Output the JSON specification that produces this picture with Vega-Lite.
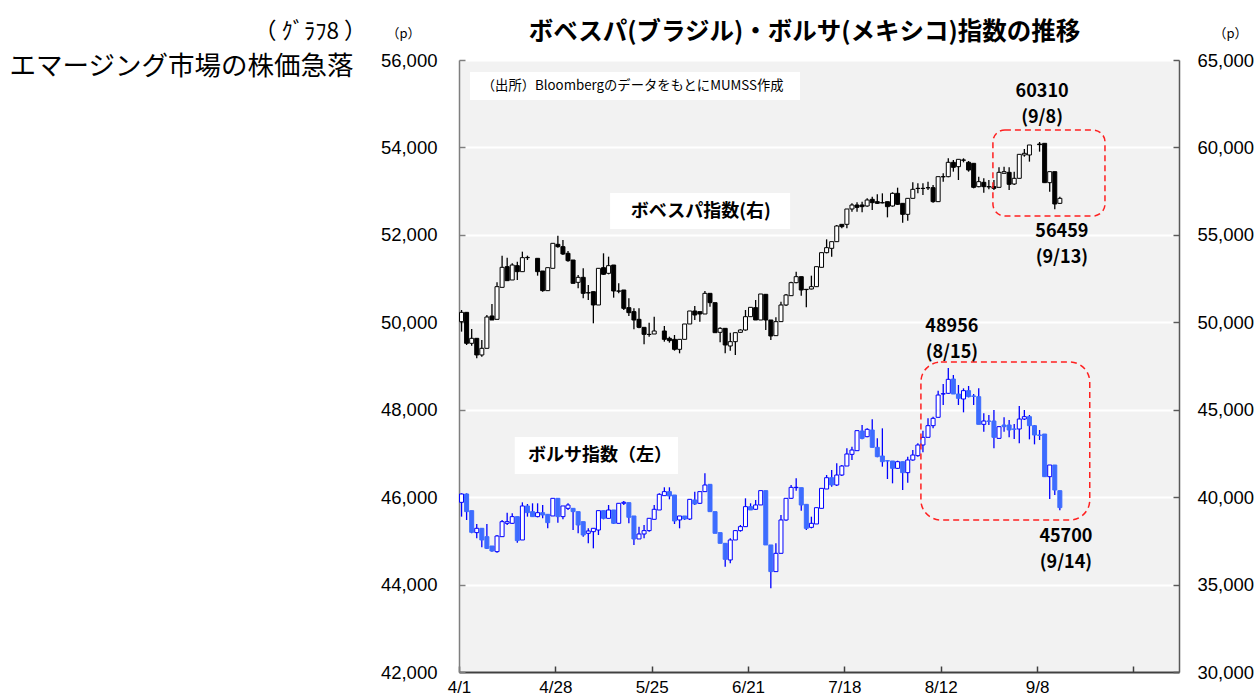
{
  "$schema": "https://vega.github.io/schema/vega-lite/v6.json",
  "width": 720,
  "height": 612,
  "autosize": {"type": "none"},
  "padding": {"left": 459, "top": 60, "right": 80, "bottom": 25},
  "background": "#FFFFFF",
  "config": {"view": {"fill": "#F2F2F2", "stroke": null}, "font": "Liberation Sans"},
  "datasets": {
    "bs": [
      {"i":0,"d":"4/1","o":45881,"h":46087,"l":45554,"c":46072},
      {"i":1,"d":"4/4","o":46072,"h":46087,"l":45477,"c":45668},
      {"i":2,"d":"4/5","o":45691,"h":45691,"l":45172,"c":45195},
      {"i":3,"d":"4/6","o":45188,"h":45386,"l":45058,"c":45287},
      {"i":4,"d":"4/7","o":45287,"h":45287,"l":44852,"c":45020},
      {"i":5,"d":"4/8","o":45096,"h":45386,"l":44814,"c":44829},
      {"i":6,"d":"4/11","o":44882,"h":44882,"l":44753,"c":44768},
      {"i":7,"d":"4/12","o":44753,"h":45134,"l":44730,"c":45111},
      {"i":8,"d":"4/13","o":45096,"h":45477,"l":45096,"c":45439},
      {"i":9,"d":"4/14","o":45401,"h":45645,"l":45363,"c":45439},
      {"i":10,"d":"4/15","o":45401,"h":45630,"l":45386,"c":45554},
      {"i":11,"d":"4/18","o":45554,"h":45554,"l":44959,"c":45005},
      {"i":12,"d":"4/19","o":45020,"h":45881,"l":45020,"c":45798},
      {"i":13,"d":"4/20","o":45798,"h":45843,"l":45554,"c":45645},
      {"i":14,"d":"4/21","o":45668,"h":45859,"l":45554,"c":45554},
      {"i":15,"d":"4/22","o":45554,"h":45859,"l":45538,"c":45645},
      {"i":16,"d":"4/25","o":45645,"h":45820,"l":45515,"c":45592},
      {"i":17,"d":"4/26","o":45607,"h":45607,"l":45287,"c":45416},
      {"i":18,"d":"4/27","o":45569,"h":45973,"l":45569,"c":45973},
      {"i":19,"d":"4/28","o":45973,"h":45973,"l":45416,"c":45554},
      {"i":20,"d":"4/29","o":45554,"h":45798,"l":45492,"c":45798},
      {"i":21,"d":"5/2","o":45744,"h":45859,"l":45706,"c":45820},
      {"i":22,"d":"5/3","o":45744,"h":45744,"l":45248,"c":45668},
      {"i":23,"d":"5/4","o":45668,"h":45668,"l":45172,"c":45363},
      {"i":24,"d":"5/5","o":45439,"h":45439,"l":45096,"c":45134},
      {"i":25,"d":"5/6","o":45172,"h":45287,"l":44944,"c":45226},
      {"i":26,"d":"5/9","o":45210,"h":45287,"l":44829,"c":45287},
      {"i":27,"d":"5/10","o":45248,"h":45691,"l":45134,"c":45691},
      {"i":28,"d":"5/11","o":45691,"h":45691,"l":45492,"c":45515},
      {"i":29,"d":"5/12","o":45515,"h":45820,"l":45515,"c":45706},
      {"i":30,"d":"5/13","o":45706,"h":45706,"l":45386,"c":45401},
      {"i":31,"d":"5/16","o":45401,"h":45859,"l":45401,"c":45859},
      {"i":32,"d":"5/17","o":45859,"h":45912,"l":45821,"c":45882},
      {"i":33,"d":"5/18","o":45874,"h":45874,"l":45401,"c":45539},
      {"i":34,"d":"5/19","o":45569,"h":45569,"l":44906,"c":45043},
      {"i":35,"d":"5/20","o":45043,"h":45325,"l":45043,"c":45157},
      {"i":36,"d":"5/23","o":45157,"h":45363,"l":45058,"c":45234},
      {"i":37,"d":"5/24","o":45234,"h":45516,"l":45211,"c":45516},
      {"i":38,"d":"5/25","o":45493,"h":45821,"l":45493,"c":45722},
      {"i":39,"d":"5/26","o":45706,"h":46088,"l":45706,"c":46065},
      {"i":40,"d":"5/27","o":46034,"h":46225,"l":46034,"c":46126},
      {"i":41,"d":"5/30","o":46126,"h":46225,"l":45950,"c":46027},
      {"i":42,"d":"5/31","o":46049,"h":46049,"l":45386,"c":45455},
      {"i":43,"d":"6/1","o":45478,"h":45569,"l":45287,"c":45569},
      {"i":44,"d":"6/2","o":45569,"h":45569,"l":45478,"c":45500},
      {"i":45,"d":"6/3","o":45500,"h":45950,"l":45478,"c":45950},
      {"i":46,"d":"6/6","o":45935,"h":46126,"l":45821,"c":45844},
      {"i":47,"d":"6/7","o":45859,"h":46126,"l":45844,"c":46126},
      {"i":48,"d":"6/8","o":46126,"h":46545,"l":46126,"c":46278},
      {"i":49,"d":"6/9","o":46293,"h":46293,"l":45668,"c":45668},
      {"i":50,"d":"6/10","o":45668,"h":45668,"l":45173,"c":45173},
      {"i":51,"d":"6/13","o":45188,"h":45188,"l":44944,"c":44944},
      {"i":52,"d":"6/14","o":44944,"h":44944,"l":44410,"c":44578},
      {"i":53,"d":"6/15","o":44563,"h":45058,"l":44486,"c":45020},
      {"i":54,"d":"6/16","o":45020,"h":45249,"l":45020,"c":45234},
      {"i":55,"d":"6/17","o":45234,"h":45363,"l":45211,"c":45325},
      {"i":56,"d":"6/20","o":45325,"h":45973,"l":45325,"c":45783},
      {"i":57,"d":"6/21","o":45783,"h":45859,"l":45706,"c":45706},
      {"i":58,"d":"6/22","o":45722,"h":45935,"l":45706,"c":45821},
      {"i":59,"d":"6/23","o":45821,"h":46149,"l":45821,"c":46149},
      {"i":60,"d":"6/24","o":46149,"h":46149,"l":44906,"c":44906},
      {"i":61,"d":"6/27","o":44906,"h":44906,"l":43914,"c":44296},
      {"i":62,"d":"6/28","o":44296,"h":44944,"l":44296,"c":44715},
      {"i":63,"d":"6/29","o":44715,"h":45592,"l":44715,"c":45478},
      {"i":64,"d":"6/30","o":45477,"h":45973,"l":45462,"c":45973},
      {"i":65,"d":"7/1","o":45973,"h":46278,"l":45957,"c":46224},
      {"i":66,"d":"7/4","o":46217,"h":46430,"l":46148,"c":46225},
      {"i":67,"d":"7/5","o":46217,"h":46217,"l":45691,"c":45820},
      {"i":68,"d":"7/6","o":45835,"h":45835,"l":45248,"c":45286},
      {"i":69,"d":"7/7","o":45309,"h":45553,"l":45286,"c":45401},
      {"i":70,"d":"7/8","o":45386,"h":45759,"l":45386,"c":45759},
      {"i":71,"d":"7/11","o":45744,"h":46201,"l":45744,"c":46201},
      {"i":72,"d":"7/12","o":46186,"h":46506,"l":46186,"c":46445},
      {"i":73,"d":"7/13","o":46445,"h":46621,"l":46240,"c":46278},
      {"i":74,"d":"7/14","o":46278,"h":46773,"l":46255,"c":46506},
      {"i":75,"d":"7/15","o":46506,"h":46734,"l":46483,"c":46712},
      {"i":76,"d":"7/18","o":46712,"h":47116,"l":46712,"c":46987},
      {"i":77,"d":"7/19","o":46979,"h":47155,"l":46850,"c":47078},
      {"i":78,"d":"7/20","o":47063,"h":47521,"l":47063,"c":47521},
      {"i":79,"d":"7/21","o":47513,"h":47650,"l":47322,"c":47345},
      {"i":80,"d":"7/22","o":47383,"h":47574,"l":47368,"c":47551},
      {"i":81,"d":"7/25","o":47536,"h":47780,"l":47139,"c":47139},
      {"i":82,"d":"7/26","o":47139,"h":47345,"l":46911,"c":46926},
      {"i":83,"d":"7/27","o":46941,"h":47574,"l":46697,"c":46811},
      {"i":84,"d":"7/28","o":46834,"h":46850,"l":46415,"c":46826},
      {"i":85,"d":"7/29","o":46827,"h":46827,"l":46316,"c":46659},
      {"i":86,"d":"8/1","o":46659,"h":46834,"l":46644,"c":46811},
      {"i":87,"d":"8/2","o":46811,"h":46811,"l":46163,"c":46560},
      {"i":88,"d":"8/3","o":46560,"h":46926,"l":46331,"c":46850},
      {"i":89,"d":"8/4","o":46850,"h":47078,"l":46834,"c":46964},
      {"i":90,"d":"8/5","o":46949,"h":47231,"l":46926,"c":47193},
      {"i":91,"d":"8/8","o":47193,"h":47521,"l":47025,"c":47368},
      {"i":92,"d":"8/9","o":47368,"h":47803,"l":47368,"c":47635},
      {"i":93,"d":"8/10","o":47635,"h":47841,"l":47574,"c":47803},
      {"i":94,"d":"8/11","o":47826,"h":48436,"l":47826,"c":48336},
      {"i":95,"d":"8/12","o":48359,"h":48588,"l":48108,"c":48367},
      {"i":96,"d":"8/15","o":48375,"h":48956,"l":48359,"c":48695},
      {"i":97,"d":"8/16","o":48702,"h":48794,"l":48359,"c":48359},
      {"i":98,"d":"8/17","o":48359,"h":48565,"l":48108,"c":48260},
      {"i":99,"d":"8/18","o":48245,"h":48489,"l":47940,"c":48436},
      {"i":100,"d":"8/19","o":48436,"h":48542,"l":48283,"c":48298},
      {"i":101,"d":"8/22","o":48314,"h":48359,"l":48108,"c":48306},
      {"i":102,"d":"8/23","o":48298,"h":48489,"l":47665,"c":47665},
      {"i":103,"d":"8/24","o":47665,"h":47917,"l":47498,"c":47742},
      {"i":104,"d":"8/25","o":47742,"h":47879,"l":47650,"c":47735},
      {"i":105,"d":"8/26","o":47742,"h":47993,"l":47116,"c":47368},
      {"i":106,"d":"8/29","o":47345,"h":47627,"l":47330,"c":47612},
      {"i":107,"d":"8/30","o":47650,"h":47826,"l":47498,"c":47612},
      {"i":108,"d":"8/31","o":47650,"h":47765,"l":47368,"c":47536},
      {"i":109,"d":"9/1","o":47559,"h":47673,"l":47330,"c":47552},
      {"i":110,"d":"9/2","o":47559,"h":48085,"l":47231,"c":47787},
      {"i":111,"d":"9/5","o":47787,"h":47993,"l":47765,"c":47841},
      {"i":112,"d":"9/6","o":47841,"h":47879,"l":47322,"c":47635},
      {"i":113,"d":"9/7","o":47635,"h":47650,"l":47208,"c":47421},
      {"i":114,"d":"9/8","o":47421,"h":47536,"l":47307,"c":47413},
      {"i":115,"d":"9/9","o":47444,"h":47444,"l":46468,"c":46468},
      {"i":116,"d":"9/12","o":46468,"h":46735,"l":45957,"c":46735},
      {"i":117,"d":"9/13","o":46735,"h":46735,"l":46049,"c":46163},
      {"i":118,"d":"9/14","o":46148,"h":46148,"l":45700,"c":45760}
    ],
    "bv": [
      {"i":0,"d":"4/1","o":50036,"h":50703,"l":49465,"c":50569},
      {"i":1,"d":"4/4","o":50569,"h":50569,"l":48701,"c":48797},
      {"i":2,"d":"4/5","o":48797,"h":49617,"l":48663,"c":49083},
      {"i":3,"d":"4/6","o":49083,"h":49083,"l":47939,"c":48130},
      {"i":4,"d":"4/7","o":48130,"h":48988,"l":48034,"c":48511},
      {"i":5,"d":"4/8","o":48511,"h":50417,"l":48511,"c":50303},
      {"i":6,"d":"4/11","o":50360,"h":51046,"l":50131,"c":50131},
      {"i":7,"d":"4/12","o":50170,"h":52285,"l":50170,"c":52037},
      {"i":8,"d":"4/13","o":51999,"h":53810,"l":51999,"c":53143},
      {"i":9,"d":"4/14","o":53181,"h":53696,"l":52380,"c":52380},
      {"i":10,"d":"4/15","o":52419,"h":53372,"l":52419,"c":53276},
      {"i":11,"d":"4/18","o":53238,"h":53467,"l":52419,"c":52895},
      {"i":12,"d":"4/19","o":52895,"h":54039,"l":52895,"c":53696},
      {"i":13,"d":"4/20","o":53696,"h":53810,"l":53562,"c":53710},
      {"i":15,"d":"4/22","o":53658,"h":53658,"l":52666,"c":52895},
      {"i":16,"d":"4/25","o":52933,"h":52933,"l":51751,"c":51809},
      {"i":17,"d":"4/26","o":51809,"h":53124,"l":51809,"c":53124},
      {"i":18,"d":"4/27","o":53086,"h":54516,"l":53086,"c":54516},
      {"i":19,"d":"4/28","o":54458,"h":54954,"l":54268,"c":54325},
      {"i":20,"d":"4/29","o":54325,"h":54706,"l":53848,"c":53906},
      {"i":21,"d":"5/2","o":53944,"h":54077,"l":53467,"c":53524},
      {"i":22,"d":"5/3","o":53562,"h":53562,"l":52228,"c":52228},
      {"i":23,"d":"5/4","o":52285,"h":52705,"l":51942,"c":52571},
      {"i":24,"d":"5/5","o":52571,"h":53086,"l":51370,"c":51656},
      {"i":25,"d":"5/6","o":51694,"h":52133,"l":51275,"c":51680},
      {"i":26,"d":"5/9","o":51751,"h":51751,"l":49941,"c":50989},
      {"i":27,"d":"5/10","o":50989,"h":53086,"l":50989,"c":53086},
      {"i":28,"d":"5/11","o":53124,"h":53944,"l":52705,"c":52743},
      {"i":29,"d":"5/12","o":52800,"h":53753,"l":52743,"c":53238},
      {"i":30,"d":"5/13","o":53276,"h":53276,"l":51408,"c":51790},
      {"i":31,"d":"5/16","o":51790,"h":52228,"l":51656,"c":51780},
      {"i":32,"d":"5/17","o":51847,"h":51847,"l":50703,"c":50798},
      {"i":33,"d":"5/18","o":50836,"h":51370,"l":50359,"c":50550},
      {"i":34,"d":"5/19","o":50608,"h":50798,"l":49597,"c":50131},
      {"i":35,"d":"5/20","o":50169,"h":50798,"l":49654,"c":49711},
      {"i":36,"d":"5/23","o":49711,"h":49711,"l":48739,"c":49311},
      {"i":37,"d":"5/24","o":49311,"h":49978,"l":49178,"c":49300},
      {"i":38,"d":"5/25","o":49330,"h":50321,"l":49330,"c":49502},
      {"i":40,"d":"5/27","o":49502,"h":49788,"l":48892,"c":49025},
      {"i":41,"d":"5/30","o":49082,"h":49178,"l":48835,"c":48949},
      {"i":42,"d":"5/31","o":49025,"h":49273,"l":48377,"c":48453},
      {"i":43,"d":"6/1","o":48453,"h":49025,"l":48225,"c":49025},
      {"i":44,"d":"6/2","o":49025,"h":49902,"l":49025,"c":49902},
      {"i":45,"d":"6/3","o":49902,"h":50646,"l":49902,"c":50646},
      {"i":46,"d":"6/6","o":50646,"h":50932,"l":50131,"c":50417},
      {"i":47,"d":"6/7","o":50608,"h":50608,"l":50036,"c":50474},
      {"i":48,"d":"6/8","o":50474,"h":51790,"l":50474,"c":51656},
      {"i":49,"d":"6/9","o":51656,"h":51656,"l":50893,"c":51122},
      {"i":50,"d":"6/10","o":51122,"h":51122,"l":49406,"c":49406},
      {"i":51,"d":"6/13","o":49426,"h":49711,"l":48854,"c":49654},
      {"i":52,"d":"6/14","o":49654,"h":49654,"l":48225,"c":48701},
      {"i":53,"d":"6/15","o":48644,"h":49406,"l":48377,"c":48892},
      {"i":54,"d":"6/16","o":48892,"h":49406,"l":48129,"c":49406},
      {"i":55,"d":"6/17","o":49426,"h":49597,"l":49406,"c":49559},
      {"i":56,"d":"6/20","o":49559,"h":50703,"l":49521,"c":50321},
      {"i":57,"d":"6/21","o":50321,"h":50855,"l":50321,"c":50855},
      {"i":58,"d":"6/22","o":50836,"h":51275,"l":50131,"c":50131},
      {"i":59,"d":"6/23","o":50131,"h":51618,"l":50131,"c":51618},
      {"i":60,"d":"6/24","o":51599,"h":51599,"l":49559,"c":50131},
      {"i":61,"d":"6/27","o":50131,"h":50131,"l":48987,"c":49216},
      {"i":62,"d":"6/28","o":49235,"h":50284,"l":49216,"c":50036},
      {"i":63,"d":"6/29","o":50036,"h":51179,"l":50036,"c":50989},
      {"i":64,"d":"6/30","o":50989,"h":51618,"l":50932,"c":51561},
      {"i":65,"d":"7/1","o":51522,"h":52323,"l":51522,"c":52266},
      {"i":66,"d":"7/4","o":52266,"h":52895,"l":52228,"c":52609},
      {"i":67,"d":"7/5","o":52609,"h":52609,"l":51522,"c":51847},
      {"i":68,"d":"7/6","o":51885,"h":51885,"l":50855,"c":51870},
      {"i":69,"d":"7/7","o":51904,"h":52666,"l":51885,"c":52037},
      {"i":70,"d":"7/8","o":52037,"h":53181,"l":52037,"c":53181},
      {"i":71,"d":"7/11","o":53143,"h":53982,"l":53143,"c":53982},
      {"i":72,"d":"7/12","o":53982,"h":54744,"l":53944,"c":54268},
      {"i":73,"d":"7/13","o":54229,"h":54611,"l":53753,"c":54611},
      {"i":74,"d":"7/14","o":54611,"h":55564,"l":54611,"c":55507},
      {"i":75,"d":"7/15","o":55602,"h":55602,"l":55373,"c":55469},
      {"i":76,"d":"7/18","o":55602,"h":56479,"l":55373,"c":56479},
      {"i":77,"d":"7/19","o":56479,"h":56803,"l":56326,"c":56708},
      {"i":78,"d":"7/20","o":56708,"h":56860,"l":56326,"c":56574},
      {"i":79,"d":"7/21","o":56708,"h":56898,"l":56288,"c":56612},
      {"i":80,"d":"7/22","o":56651,"h":57089,"l":56612,"c":56994},
      {"i":81,"d":"7/25","o":57032,"h":57184,"l":56422,"c":56841},
      {"i":82,"d":"7/26","o":56898,"h":57318,"l":56765,"c":56803},
      {"i":83,"d":"7/27","o":56841,"h":57375,"l":56803,"c":56830},
      {"i":84,"d":"7/28","o":56898,"h":56898,"l":56002,"c":56612},
      {"i":85,"d":"7/29","o":56651,"h":57432,"l":56612,"c":57375},
      {"i":86,"d":"8/1","o":57375,"h":57698,"l":56708,"c":56746},
      {"i":87,"d":"8/2","o":56803,"h":56803,"l":55697,"c":56174},
      {"i":88,"d":"8/3","o":56174,"h":57089,"l":55812,"c":57089},
      {"i":89,"d":"8/4","o":57089,"h":58004,"l":57089,"c":57603},
      {"i":90,"d":"8/5","o":57661,"h":57947,"l":57375,"c":57650},
      {"i":91,"d":"8/8","o":57661,"h":57947,"l":57280,"c":57650},
      {"i":92,"d":"8/9","o":57699,"h":58042,"l":57566,"c":57690},
      {"i":93,"d":"8/10","o":57699,"h":57852,"l":56841,"c":56899},
      {"i":94,"d":"8/11","o":56899,"h":58328,"l":56899,"c":58328},
      {"i":95,"d":"8/12","o":58328,"h":58519,"l":58042,"c":58320},
      {"i":96,"d":"8/15","o":58328,"h":59377,"l":58290,"c":59148},
      {"i":97,"d":"8/16","o":59148,"h":59281,"l":58614,"c":58862},
      {"i":98,"d":"8/17","o":58900,"h":59319,"l":58138,"c":59319},
      {"i":99,"d":"8/18","o":59281,"h":59377,"l":59148,"c":59270},
      {"i":100,"d":"8/19","o":59148,"h":59224,"l":58614,"c":58709},
      {"i":101,"d":"8/22","o":59091,"h":59091,"l":57661,"c":57718},
      {"i":102,"d":"8/23","o":57756,"h":58328,"l":57718,"c":58042},
      {"i":103,"d":"8/24","o":58004,"h":58233,"l":57413,"c":57756},
      {"i":104,"d":"8/25","o":57756,"h":58138,"l":57604,"c":57745},
      {"i":105,"d":"8/26","o":57756,"h":58138,"l":57566,"c":57661},
      {"i":106,"d":"8/29","o":57718,"h":58862,"l":57718,"c":58576},
      {"i":107,"d":"8/30","o":58519,"h":58900,"l":58519,"c":58614},
      {"i":108,"d":"8/31","o":58576,"h":58862,"l":57566,"c":57890},
      {"i":109,"d":"9/1","o":57909,"h":58614,"l":57852,"c":58233},
      {"i":110,"d":"9/2","o":58233,"h":59605,"l":58233,"c":59605},
      {"i":111,"d":"9/5","o":59567,"h":59910,"l":59472,"c":59663},
      {"i":112,"d":"9/6","o":59567,"h":60139,"l":59187,"c":60139},
      {"i":114,"d":"9/8","o":60196,"h":60310,"l":59758,"c":60160},
      {"i":115,"d":"9/9","o":60235,"h":60235,"l":57985,"c":57985},
      {"i":116,"d":"9/12","o":57985,"h":58614,"l":57470,"c":58614},
      {"i":117,"d":"9/13","o":58614,"h":58614,"l":56459,"c":56765},
      {"i":118,"d":"9/14","o":56803,"h":57185,"l":56765,"c":57089}
    ]
  },
  "encoding": {
    "x": {
      "field": "i", "type": "quantitative",
      "scale": {"domain": [-0.5, 141.5], "nice": false, "zero": false, "padding": 0},
      "axis": {
        "values": [-0.5, 18.5, 37.5, 56.5, 75.5, 94.5, 113.5, 132.5],
        "labelExpr": "datum.value < 0 ? '4/1' : datum.value < 19 ? '4/28' : datum.value < 38 ? '5/25' : datum.value < 57 ? '6/21' : datum.value < 76 ? '7/18' : datum.value < 95 ? '8/12' : datum.value < 114 ? '9/8' : ''",
        "grid": false, "labelFlush": false, "labelOverlap": false,
        "tickSize": -6, "tickColor": "#404040", "tickWidth": 1.5,
        "domainColor": "#404040", "domainWidth": 2,
        "labelFont": "Liberation Sans", "labelFontSize": 17, "labelColor": "#000000", "labelPadding": 13,
        "title": "ボベスパ(ブラジル)・ボルサ(メキシコ)指数の推移",
        "titleFont": "Noto Sans CJK JP", "titleFontSize": 24.5, "titleFontWeight": "bold", "titleColor": "#000000",
        "titleX": 345, "titleY": -633, "titleAlign": "center", "titleBaseline": "alphabetic", "titleAngle": 0
      }
    }
  },
  "layer": [
    {
      "data": {"name": "bs"},
      "mark": {"type": "rule", "color": "#0000FF", "strokeWidth": 1.3},
      "encoding": {
        "y": {
          "field": "l", "type": "quantitative",
          "scale": {"domain": [42000, 56000], "nice": false, "zero": false},
          "axis": {
            "orient": "left",
            "values": [42000, 44000, 46000, 48000, 50000, 52000, 54000, 56000],
            "format": ",.0f",
            "grid": true, "gridColor": "#FFFFFF", "gridWidth": 2,
            "tickSize": -6, "tickColor": "#7F7F7F", "tickWidth": 1.5,
            "domainColor": "#7F7F7F", "domainWidth": 1.5,
            "labelFont": "Liberation Sans", "labelFontSize": 18.5, "labelColor": "#000000", "labelPadding": 28,
            "title": "（p）", "titleFont": "Noto Sans CJK JP", "titleFontSize": 13, "titleFontWeight": "normal", "titleColor": "#000000",
            "titleX": -56, "titleY": -23, "titleAlign": "center", "titleBaseline": "alphabetic", "titleAngle": 0
          }
        },
        "y2": {"field": "h"}
      }
    },
    {
      "data": {"name": "bs"},
      "mark": {"type": "bar", "width": 4, "strokeWidth": 1},
      "encoding": {
        "y": {"field": "o", "type": "quantitative", "scale": {"domain": [42000, 56000], "nice": false, "zero": false}, "axis": null},
        "y2": {"field": "c"},
        "fill": {"condition": {"test": "datum.c >= datum.o", "value": "#FFFFFF"}, "value": "#3D6CFF"},
        "stroke": {"condition": {"test": "datum.c >= datum.o", "value": "#0000FF"}, "value": "#3D6CFF"}
      }
    },
    {
      "data": {"name": "bv"},
      "mark": {"type": "rule", "color": "#000000", "strokeWidth": 1.3},
      "encoding": {
        "y": {
          "field": "l", "type": "quantitative",
          "scale": {"domain": [30000, 65000], "nice": false, "zero": false},
          "axis": {
            "orient": "right",
            "values": [30000, 35000, 40000, 45000, 50000, 55000, 60000, 65000],
            "format": ",.0f",
            "grid": false,
            "tickSize": -6, "tickColor": "#595959", "tickWidth": 1.5,
            "domainColor": "#595959", "domainWidth": 1.5,
            "labelFont": "Liberation Sans", "labelFontSize": 18.5, "labelColor": "#000000", "labelPadding": 24,
            "title": "（p）", "titleFont": "Noto Sans CJK JP", "titleFontSize": 13, "titleFontWeight": "normal", "titleColor": "#000000",
            "titleX": 51, "titleY": -23, "titleAlign": "center", "titleBaseline": "alphabetic", "titleAngle": 0
          }
        },
        "y2": {"field": "h"}
      }
    },
    {
      "data": {"name": "bv"},
      "mark": {"type": "bar", "width": 4, "strokeWidth": 1, "stroke": "#000000"},
      "encoding": {
        "y": {"field": "o", "type": "quantitative", "scale": {"domain": [30000, 65000], "nice": false, "zero": false}, "axis": null},
        "y2": {"field": "c"},
        "fill": {"condition": {"test": "datum.c >= datum.o", "value": "#FFFFFF"}, "value": "#000000"}
      }
    },
    {
      "data": {"values": [{"i": 1.67, "i2": 66.75, "y": 55725, "y2": 55085}, {"i": 10.5, "i2": 42.7, "y": 47376, "y2": 46529}]},
      "mark": {"type": "rect", "fill": "#FFFFFF"},
      "encoding": {
        "x2": {"field": "i2"},
        "y": {
          "field": "y", "type": "quantitative", "scale": {"domain": [42000, 56000], "nice": false, "zero": false},
          "axis": {
            "orient": "left", "labels": false, "ticks": false, "domain": false, "grid": false,
            "title": "（ ｸﾞﾗﾌ8 ）", "titleFont": "Noto Sans CJK JP", "titleFontSize": 22.5, "titleFontWeight": "normal", "titleColor": "#000000",
            "titleX": -93, "titleY": -22, "titleAlign": "right", "titleBaseline": "alphabetic", "titleAngle": 0
          }
        },
        "y2": {"field": "y2"}
      }
    },
    {
      "data": {"values": [{"i": 29.3, "i2": 64.8, "y": 57394, "y2": 55335}]},
      "mark": {"type": "rect", "fill": "#FFFFFF"},
      "encoding": {
        "x2": {"field": "i2"},
        "y": {
          "field": "y", "type": "quantitative", "scale": {"domain": [30000, 65000], "nice": false, "zero": false},
          "axis": {
            "orient": "left", "labels": false, "ticks": false, "domain": false, "grid": false,
            "title": "エマージング市場の株価急落", "titleFont": "Noto Sans CJK JP", "titleFontSize": 26.5, "titleFontWeight": "normal", "titleColor": "#000000",
            "titleX": -106, "titleY": 14, "titleAlign": "right", "titleBaseline": "alphabetic", "titleAngle": 0
          }
        },
        "y2": {"field": "y2"}
      }
    },
    {
      "data": {"values": [{"i": 90.6, "i2": 123.9, "y": 49091, "y2": 45477}]},
      "mark": {"type": "rect", "fill": "transparent", "stroke": "#FF2020", "strokeWidth": 1.5, "strokeDash": [6, 4], "cornerRadius": 20},
      "encoding": {
        "x2": {"field": "i2"},
        "y": {"field": "y", "type": "quantitative", "scale": {"domain": [42000, 56000], "nice": false, "zero": false}, "axis": null},
        "y2": {"field": "y2"}
      }
    },
    {
      "data": {"values": [{"i": 104.8, "i2": 126.9, "y": 60997, "y2": 56078}]},
      "mark": {"type": "rect", "fill": "transparent", "stroke": "#FF2020", "strokeWidth": 1.5, "strokeDash": [6, 4], "cornerRadius": 12},
      "encoding": {
        "x2": {"field": "i2"},
        "y": {"field": "y", "type": "quantitative", "scale": {"domain": [30000, 65000], "nice": false, "zero": false}, "axis": null},
        "y2": {"field": "y2"}
      }
    },
    {
      "data": {"values": [{"i": 96.7, "y": 49778, "t": "48956\n(8/15)"}, {"i": 119.2, "y": 44974, "t": "45700\n(9/14)"}]},
      "mark": {"type": "text", "font": "Noto Sans CJK JP", "fontSize": 18, "fontWeight": "bold", "color": "#000000", "align": "center", "baseline": "alphabetic", "lineBreak": "\n", "lineHeight": 26},
      "encoding": {
        "y": {"field": "y", "type": "quantitative", "scale": {"domain": [42000, 56000], "nice": false, "zero": false}, "axis": null},
        "text": {"field": "t"}
      }
    },
    {
      "data": {"values": [{"i": 27.3, "y": 46941, "t": "ボルサ指数（左）"}]},
      "mark": {"type": "text", "font": "Noto Sans CJK JP", "fontSize": 18, "fontWeight": "bold", "color": "#000000", "align": "center", "baseline": "middle"},
      "encoding": {
        "y": {"field": "y", "type": "quantitative", "scale": {"domain": [42000, 56000], "nice": false, "zero": false}, "axis": null},
        "text": {"field": "t"}
      }
    },
    {
      "data": {"values": [{"i": 4.0, "y": 55405, "t": "（出所）BloombergのデータをもとにMUMSS作成"}]},
      "mark": {"type": "text", "font": "Noto Sans CJK JP", "fontSize": 13.3, "color": "#000000", "align": "left", "baseline": "middle"},
      "encoding": {
        "y": {"field": "y", "type": "quantitative", "scale": {"domain": [42000, 56000], "nice": false, "zero": false}, "axis": null},
        "text": {"field": "t"}
      }
    },
    {
      "data": {"values": [{"i": 114.5, "y": 62884, "t": "60310\n(9/8)"}, {"i": 118.4, "y": 54878, "t": "56459\n(9/13)"}]},
      "mark": {"type": "text", "font": "Noto Sans CJK JP", "fontSize": 18, "fontWeight": "bold", "color": "#000000", "align": "center", "baseline": "alphabetic", "lineBreak": "\n", "lineHeight": 26},
      "encoding": {
        "y": {"field": "y", "type": "quantitative", "scale": {"domain": [30000, 65000], "nice": false, "zero": false}, "axis": null},
        "text": {"field": "t"}
      }
    },
    {
      "data": {"values": [{"i": 47.2, "y": 56307, "t": "ボベスパ指数(右)"}]},
      "mark": {"type": "text", "font": "Noto Sans CJK JP", "fontSize": 18, "fontWeight": "bold", "color": "#000000", "align": "center", "baseline": "middle"},
      "encoding": {
        "y": {"field": "y", "type": "quantitative", "scale": {"domain": [30000, 65000], "nice": false, "zero": false}, "axis": null},
        "text": {"field": "t"}
      }
    }
  ],
  "resolve": {"scale": {"y": "independent"}}
}
